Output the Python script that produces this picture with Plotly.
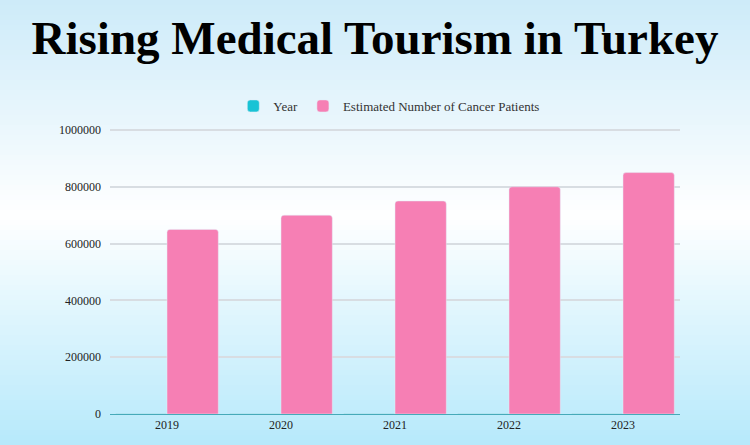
import plotly.graph_objects as go

years = ["2019", "2020", "2021", "2022", "2023"]
year_values = [2019, 2020, 2021, 2022, 2023]
patients = [650000, 700000, 750000, 800000, 850000]
y_ticks = [0, 200000, 400000, 600000, 800000, 1000000]

W, H = 750, 445
ML, MR, MT, MB = 110, 70, 128, 31
PH = H - MT - MB

def lerp(c1, c2, t):
    return tuple(round(a + (b - a) * t) for a, b in zip(c1, c2))

top_c = (205, 235, 249)
mid_c = (255, 255, 255)
bot_c = (182, 233, 251)
mid_px = 215

shapes = []
step = 5
for py in range(0, H, step):
    yc = py + step / 2
    if yc < mid_px:
        c = lerp(top_c, mid_c, yc / mid_px)
    else:
        c = lerp(mid_c, bot_c, (yc - mid_px) / (H - mid_px))
    y1 = (H - MB - py) / PH
    y0 = (H - MB - (py + step + 1)) / PH
    shapes.append(dict(type="rect", xref="paper", yref="paper",
                       x0=-0.3, x1=1.3, y0=y0, y1=y1,
                       fillcolor="rgb(%d,%d,%d)" % c, line=dict(width=0),
                       layer="below"))

font = "Liberation Serif"

fig = go.Figure()
fig.add_trace(go.Bar(x=years, y=year_values, name="Year", marker_color="#19c3d5"))
fig.add_trace(go.Bar(x=years, y=patients, name="Estimated Number of Cancer Patients",
                     marker_color="#f67fb4"))

fig.update_layout(
    width=W, height=H,
    margin=dict(l=ML, r=MR, t=MT, b=MB),
    paper_bgcolor="#e6f6fc",
    plot_bgcolor="rgba(0,0,0,0)",
    shapes=shapes,
    barmode="group",
    bargap=0.1,
    bargroupgap=0,
    barcornerradius=3,
    title=dict(text="<b>Rising Medical Tourism in Turkey</b>", x=0.5, xanchor="center",
               y=0.915, yanchor="middle",
               font=dict(family=font, size=47, color="#000000")),
    legend=dict(orientation="h", x=0.49, xanchor="center", y=1.077, yanchor="middle",
                font=dict(family=font, size=13, color="#333333"),
                bgcolor="rgba(0,0,0,0)", itemclick=False),
    xaxis=dict(showgrid=False, tickfont=dict(family=font, size=12, color="#222222"),
               showline=True, linecolor="#46aab9", linewidth=1, ticks=""),
    yaxis=dict(range=[0, 1007000], tickvals=y_ticks, ticktext=[str(v) for v in y_ticks],
               showgrid=True, gridcolor="#d8dde2", gridwidth=1.5,
               zeroline=False, tickfont=dict(family=font, size=12, color="#222222"),
               ticks="", ticklen=0, ticklabelstandoff=8),
    showlegend=True,
)

fig.write_html("out.html", config={"displayModeBar": False},
               post_script="document.body.style.margin='0';")
